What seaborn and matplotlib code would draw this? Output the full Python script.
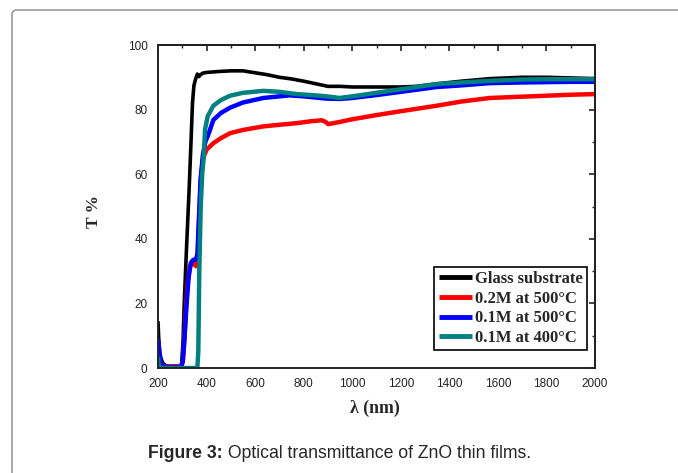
import numpy as np
import pandas as pd
import matplotlib
matplotlib.use("Agg")
import matplotlib.pyplot as plt
import seaborn as sns
from matplotlib.patches import FancyBboxPatch
from matplotlib.transforms import IdentityTransform
from matplotlib.ticker import MultipleLocator

# ---------------- data ----------------
series_names = ["Glass substrate", "0.2M at 500\u00b0C", "0.1M at 500\u00b0C", "0.1M at 400\u00b0C"]
series_colors = ["#000000", "#ff0000", "#0000ff", "#008080"]

glass_wl = [200, 203, 207, 212, 220, 230, 250, 280, 297, 303, 308, 318, 328, 336, 342, 348, 355, 362,
            368, 375, 385, 400, 450, 500, 550, 600, 650, 700, 750, 800, 850, 900, 950, 1000, 1100,
            1200, 1265, 1350, 1450, 1570, 1700, 1800, 1900, 2000]
glass_T = [14.5, 9, 5, 3, 1.5, 0.8, 0.5, 0.5, 0.8, 8, 20, 38, 55, 70, 82, 87.5, 89.5, 91,
           90.2, 90.8, 91.3, 91.5, 91.8, 92, 92, 91.4, 90.8, 90, 89.5, 88.8, 88, 87.2, 87.2, 87, 87,
           87, 87.2, 88, 88.8, 89.6, 90, 90, 89.8, 89.6]

red_wl = [200, 205, 212, 220, 235, 260, 295, 302, 308, 315, 322, 330, 338, 350, 358, 364, 370, 378,
          386, 400, 428, 460, 497, 550, 634, 700, 771, 830, 875, 890, 901, 950, 1000, 1100, 1200,
          1348, 1450, 1567, 1700, 1800, 1900, 2000]
red_T = [5, 3, 1.5, 0.8, 0.5, 0.5, 0.5, 2, 8, 18, 26, 31, 32.5, 32, 31.5, 33, 48, 60,
         65, 67.6, 69.6, 71.2, 72.7, 73.7, 74.8, 75.3, 75.8, 76.4, 76.7, 76.2, 75.5, 76.2, 77, 78.3, 79.5,
         81.2, 82.5, 83.6, 84, 84.3, 84.6, 84.8]

blue_wl = [200, 203, 208, 215, 225, 250, 295, 302, 308, 318, 326, 335, 345, 355, 362, 368, 375, 385,
           395, 407, 428, 460, 497, 550, 634, 700, 744, 800, 895, 950, 1000, 1100, 1200, 1300, 1348,
           1450, 1567, 1700, 1800, 1900, 2000]
blue_T = [9, 7, 3, 1, 0.5, 0.3, 0.3, 2, 8, 20, 28, 32.5, 33.5, 33.5, 35, 45, 58, 66,
          70, 72.2, 76.8, 79, 80.6, 82.2, 83.6, 84.1, 84.4, 84.1, 83.4, 83.3, 83.6, 84.5, 85.5, 86.5, 87,
          87.5, 88.2, 88.4, 88.5, 88.6, 88.6]

teal_wl = [200, 203, 208, 250, 300, 340, 362, 366, 370, 376, 382, 388, 394, 405, 428, 460, 497, 550,
           634, 700, 771, 850, 895, 948, 1000, 1100, 1200, 1300, 1348, 1450, 1567, 1700, 1800, 1900, 2000]
teal_T = [3.5, 1, 0, 0, 0, 0, 0, 5, 30, 50, 60, 65, 74, 78, 81.2, 83, 84.3, 85.2,
          85.8, 85.5, 84.8, 84.4, 84.1, 83.6, 84.1, 85.2, 86.3, 87.4, 87.9, 88.4, 88.9, 89.3, 89.4, 89.4, 89.4]

x_ticks = [200, 400, 600, 800, 1000, 1200, 1400, 1600, 1800, 2000]
y_ticks = [0, 20, 40, 60, 80, 100]

x_label = "\u03bb (nm)"
y_label = "T %"
caption_bold = "Figure 3:"
caption_rest = " Optical transmittance of ZnO thin films."

# ---------------- build table ----------------
frames = []
for name, wl, T in zip(series_names,
                       [glass_wl, red_wl, blue_wl, teal_wl],
                       [glass_T, red_T, blue_T, teal_T]):
    frames.append(pd.DataFrame({"wl": wl, "T": T, "series": name}))
df = pd.concat(frames, ignore_index=True)

# ---------------- figure ----------------
sns.set_style("white")
plt.rcParams["font.family"] = ["Liberation Sans", "DejaVu Sans"]

W, H = 678, 473
fig = plt.figure(figsize=(W / 100, H / 100), dpi=100)
ax = fig.add_axes([158 / W, 1 - 368 / H, (595 - 158) / W, (368 - 45) / H])

# outer rounded frame
frame = FancyBboxPatch((12, -30), 720, 463 + 30, boxstyle="round,pad=0,rounding_size=5",
                       transform=IdentityTransform(), facecolor="none", edgecolor="#9a9a9a",
                       linewidth=1.2, zorder=0)
fig.patches.append(frame)

lws = [2.6, 3.2, 3.2, 3.2]
for name, col, lw in zip(series_names, series_colors, lws):
    sub = df[df["series"] == name]
    sns.lineplot(data=sub, x="wl", y="T", ax=ax, color=col, linewidth=lw, sort=False,
                 estimator=None, label=name, solid_joinstyle="round", solid_capstyle="butt")

ax.set_xlim(200, 2000)
ax.set_ylim(0, 100)
ax.set_xticks(x_ticks)
ax.set_yticks(y_ticks)
ax.xaxis.set_minor_locator(MultipleLocator(100))
ax.yaxis.set_minor_locator(MultipleLocator(10))
ax.tick_params(axis="both", which="major", direction="out", length=5, width=1.2,
               labelsize=8.5, colors="#222222", pad=2.5)
ax.tick_params(axis="both", which="minor", direction="out", length=3, width=1.0, colors="#222222")
for s in ax.spines.values():
    s.set_linewidth(1.4)
    s.set_color("#222222")
    s.set_visible(True)

# inward ticks on top and right
sec_x = ax.secondary_xaxis("top")
sec_x.set_xticks(x_ticks)
sec_x.xaxis.set_minor_locator(MultipleLocator(100))
sec_x.tick_params(which="major", direction="in", length=4, width=1.2, labeltop=False, colors="#222222")
sec_x.tick_params(which="minor", direction="in", length=2.5, width=1.0, colors="#222222")
sec_y = ax.secondary_yaxis("right")
sec_y.set_yticks(y_ticks)
sec_y.yaxis.set_minor_locator(MultipleLocator(10))
sec_y.tick_params(which="major", direction="in", length=4, width=1.2, labelright=False, colors="#222222")
sec_y.tick_params(which="minor", direction="in", length=2.5, width=1.0, colors="#222222")
for sa in (sec_x, sec_y):
    for s in sa.spines.values():
        s.set_linewidth(1.4)
        s.set_color("#222222")

ax.set_xlabel("")
ax.set_ylabel("")
fig.text(375 / W, 1 - 408 / H, x_label, ha="center", va="center",
         fontsize=12.8, fontweight="bold", family=["Liberation Serif", "DejaVu Serif"])
fig.text(94 / W, 1 - 211 / H, y_label, ha="center", va="center", rotation=90,
         fontsize=12.5, fontweight="bold", family=["Liberation Serif", "DejaVu Serif"])

leg = ax.legend(loc="lower right", bbox_to_anchor=(0.982, 0.055), frameon=True, fancybox=False,
                edgecolor="#000000", framealpha=1, handlelength=2.0, handletextpad=0.2,
                labelspacing=0.22, borderpad=0.25, borderaxespad=0,
                prop={"family": ["Liberation Serif", "DejaVu Serif"], "weight": "bold", "size": 12})
leg.get_frame().set_linewidth(1.2)
for h in leg.legend_handles:
    h.set_linewidth(3.5)

# caption
fig.canvas.draw()
r = fig.canvas.get_renderer()
t1 = fig.text(0, 1 - 453 / H, caption_bold, ha="left", va="center", fontsize=12.7, fontweight="bold")
t2 = fig.text(0, 1 - 453 / H, caption_rest, ha="left", va="center", fontsize=12.7)
w1 = t1.get_window_extent(r).width
w2 = t2.get_window_extent(r).width
x0 = 339.5 - (w1 + w2) / 2
t1.set_x(x0 / W)
t2.set_x((x0 + w1) / W)

fig.savefig("out.png", dpi=100)
